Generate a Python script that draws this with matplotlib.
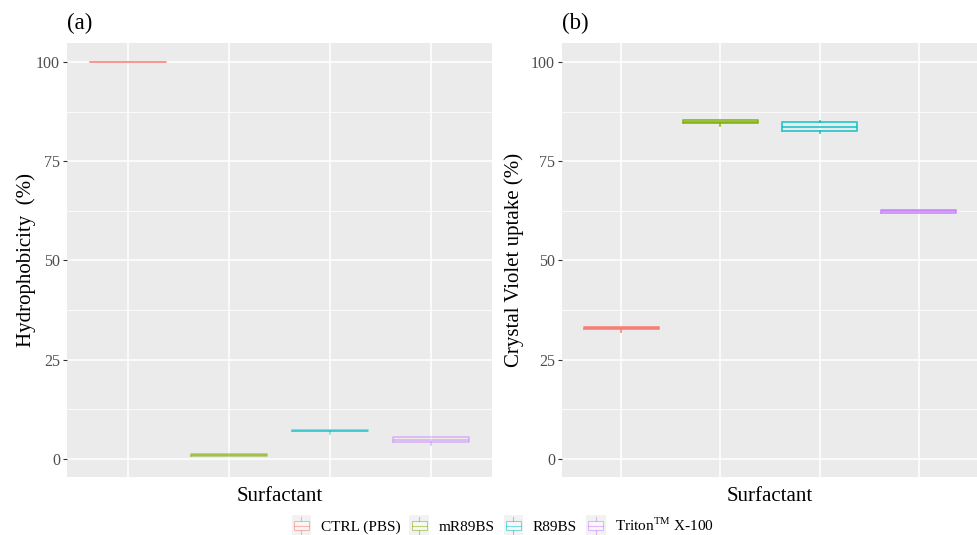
import matplotlib
matplotlib.use("Agg")
import matplotlib.pyplot as plt
from matplotlib.legend_handler import HandlerBase
from matplotlib.patches import Rectangle
from matplotlib.lines import Line2D

plt.rcParams['font.family'] = ['Liberation Serif', 'DejaVu Serif']
plt.rcParams['mathtext.fontset'] = 'custom'
plt.rcParams['mathtext.rm'] = 'Liberation Serif'

categories = ["CTRL (PBS)", "mR89BS", "R89BS", r"Triton$^{\mathrm{TM}}$ X-100"]
colors = ["#F8766D", "#7CAE00", "#00BFC4", "#C77CFF"]

# Panel (a): Hydrophobicity (%)
hyd_whislo = [100.0, 0.8, 6.3, 3.5]
hyd_q1 = [99.9, 0.8, 6.9, 4.1]
hyd_med = [100.0, 1.0, 7.1, 4.8]
hyd_q3 = [100.0, 1.2, 7.3, 5.4]
hyd_whishi = [100.0, 1.2, 7.3, 5.4]

# Panel (b): Crystal Violet uptake (%)
cv_whislo = [32.0, 84.0, 82.0, 62.0]
cv_q1 = [32.7, 84.6, 82.5, 62.0]
cv_med = [33.0, 85.0, 83.7, 62.4]
cv_q3 = [33.3, 85.4, 84.8, 62.8]
cv_whishi = [33.3, 85.4, 85.2, 62.8]

yticks = [0, 25, 50, 75, 100]

fig = plt.figure(figsize=(9.78, 5.35), dpi=100)
axa = fig.add_axes([0.0685, 0.1084, 0.4345, 0.8112])
axb = fig.add_axes([0.5746, 0.1084, 0.4254, 0.8112])

def style(ax, ylabel, label, ylabelpad):
    ax.set_facecolor("#EBEBEB")
    for s in ax.spines.values():
        s.set_visible(False)
    ax.set_xlim(0.4, 4.6)
    ax.set_ylim(-4.6, 104.8)
    ax.set_yticks(yticks)
    ax.set_yticks([12.5, 37.5, 62.5, 87.5], minor=True)
    ax.set_xticks([1, 2, 3, 4])
    ax.set_xticklabels([])
    ax.tick_params(axis='x', length=0)
    ax.tick_params(axis='y', which='major', length=3, color="#333333",
                   labelcolor="#4D4D4D", labelsize=11.5, width=0.8, pad=2)
    ax.tick_params(axis='y', which='minor', length=0)
    ax.grid(True, which='major', color='white', linewidth=1.1)
    ax.grid(True, which='minor', axis='y', color='white', linewidth=0.55)
    ax.set_axisbelow(True)
    ax.set_ylabel(ylabel, fontsize=15, color="black", labelpad=ylabelpad)
    ax.set_xlabel("Surfactant", fontsize=15, color="black", labelpad=4)
    ax.text(0.0, 1.02, label, transform=ax.transAxes, fontsize=16.5,
            ha='left', va='bottom')

def draw(ax, wl, q1, med, q3, wh, alpha, lw):
    for i in range(len(categories)):
        st = [dict(whislo=wl[i], q1=q1[i], med=med[i], q3=q3[i], whishi=wh[i], label="")]
        c = colors[i]
        ax.bxp(st, positions=[i + 1], widths=0.75, showfliers=False, showcaps=False,
               boxprops=dict(color=c, linewidth=lw, alpha=alpha),
               medianprops=dict(color=c, linewidth=lw, alpha=alpha),
               whiskerprops=dict(color=c, linewidth=lw, alpha=alpha),
               manage_ticks=False)

style(axa, "Hydrophobicity  (%)", "(a)", 0)
style(axb, "Crystal Violet uptake (%)", "(b)", 5)
draw(axa, hyd_whislo, hyd_q1, hyd_med, hyd_q3, hyd_whishi, 0.55, 1.1)
draw(axb, cv_whislo, cv_q1, cv_med, cv_q3, cv_whishi, 0.8, 1.3)

class BoxHandler(HandlerBase):
    def __init__(self, color):
        super().__init__()
        self.color = color
    def create_artists(self, legend, orig_handle, xdescent, ydescent, width, height, fontsize, trans):
        arts = []
        bg = Rectangle((-xdescent, -ydescent - 3), width, height + 6, facecolor="#F2F2F2",
                       edgecolor='none', transform=trans)
        arts.append(bg)
        cx = -xdescent + width / 2
        y0 = -ydescent - 2
        y1 = -ydescent + height + 2
        bw = width * 0.75
        bh0 = -ydescent + height * 0.15
        bh1 = -ydescent + height * 0.85
        c = self.color
        arts.append(Line2D([cx, cx], [y0, bh0], color=c, lw=0.8, alpha=0.5, transform=trans))
        arts.append(Line2D([cx, cx], [bh1, y1], color=c, lw=0.8, alpha=0.5, transform=trans))
        arts.append(Rectangle((cx - bw / 2, bh0), bw, bh1 - bh0, facecolor='white',
                              edgecolor=c, lw=0.8, alpha=0.5, transform=trans))
        arts.append(Line2D([cx - bw / 2, cx + bw / 2], [(bh0 + bh1) / 2] * 2, color=c,
                           lw=0.8, alpha=0.5, transform=trans))
        return arts

handles = [Rectangle((0, 0), 1, 1) for _ in categories]
hmap = {h: BoxHandler(c) for h, c in zip(handles, colors)}
fig.legend(handles, categories, handler_map=hmap, loc='center', ncol=4,
           bbox_to_anchor=(0.514, 0.018), frameon=False, fontsize=11,
           handlelength=1.3, handleheight=0.9, handletextpad=0.6, columnspacing=0.6)

fig.savefig("out.png", dpi=100)
